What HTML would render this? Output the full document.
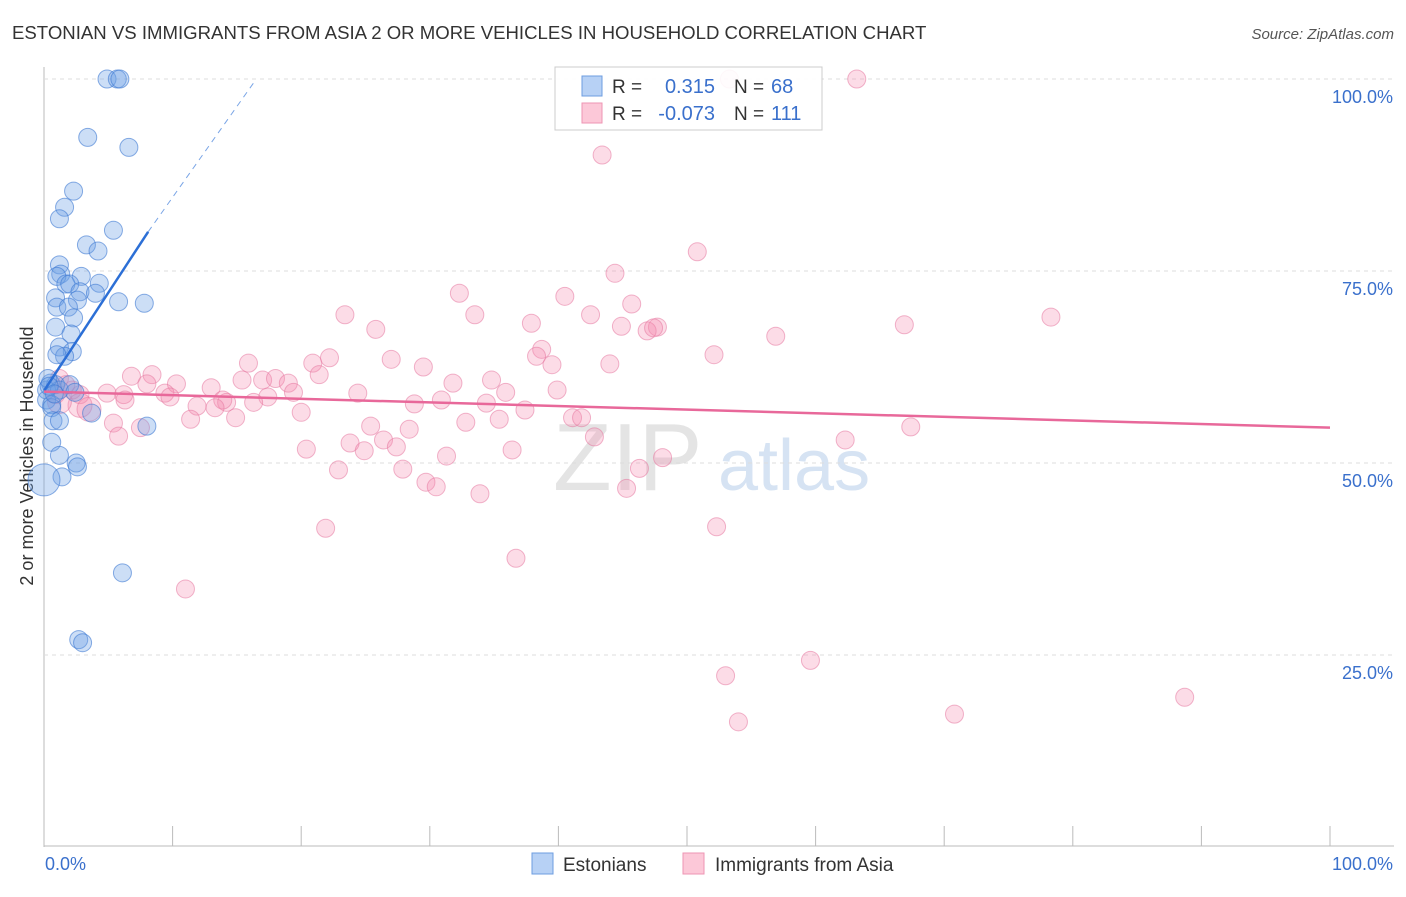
<!DOCTYPE html>
<html><head><meta charset="utf-8"><style>
body{margin:0;background:#fff;font-family:"Liberation Sans",sans-serif}
svg text{font-family:"Liberation Sans",sans-serif}
</style></head><body>
<svg id="c" width="1406" height="892">
<text x="12" y="39" font-size="18.6" fill="#333">ESTONIAN VS IMMIGRANTS FROM ASIA 2 OR MORE VEHICLES IN HOUSEHOLD CORRELATION CHART</text>
<text x="1394" y="39" font-size="15" fill="#555" font-style="italic" text-anchor="end">Source: ZipAtlas.com</text>
<text transform="translate(33,456) rotate(-90)" font-size="18" fill="#333" text-anchor="middle">2 or more Vehicles in Household</text>
<g><text x="553" y="490" font-size="96" fill="#e4e4e4" font-family="Liberation Serif">ZIP</text><text x="718" y="490" font-size="72" fill="#d6e3f3">atlas</text></g>
<g id="grid"></g><g id="pts"></g><g id="trend"></g>
<g>
<rect x="555" y="67" width="267" height="63" fill="#fff" fill-opacity="0.9" stroke="#ccc"/>
<rect x="582" y="76" width="20" height="20" fill="#b7d1f5" stroke="#6d9de0"/>
<rect x="582" y="103" width="20" height="20" fill="#fcc8d8" stroke="#ee95b3"/>
<text x="612" y="93" font-size="19" fill="#333">R =</text><text x="715" y="93" font-size="20" fill="#3a70cc" text-anchor="end">0.315</text>
<text x="734" y="93" font-size="19" fill="#333">N =</text><text x="771" y="93" font-size="20" fill="#3a70cc">68</text>
<text x="612" y="120" font-size="19" fill="#333">R =</text><text x="715" y="120" font-size="20" fill="#3a70cc" text-anchor="end">-0.073</text>
<text x="734" y="120" font-size="19" fill="#333">N =</text><text x="771" y="120" font-size="20" fill="#3a70cc">111</text>
</g>
<g>
<rect x="532" y="853" width="21" height="21" fill="#b7d1f5" stroke="#6d9de0"/><text x="563" y="871" font-size="19" fill="#333">Estonians</text>
<rect x="683" y="853" width="21" height="21" fill="#fcc8d8" stroke="#ee95b3"/><text x="715" y="871" font-size="19" fill="#333">Immigrants from Asia</text>
</g>
</svg>
<script>
const yTicks=[25,50,75,100];
const xTickCount=10;
const blueX=[4.9,5.7,5.9,3.4,6.6,2.3,1.6,1.2,5.4,3.3,4.2,1.2,1.3,1.0,2.9,1.7,2.0,4.3,2.8,2.6,4.0,0.9,1.0,5.8,7.8,1.9,2.3,0.9,2.1,1.2,2.2,1.6,1.0,0.5,0.9,0.2,1.2,2.0,2.4,0.2,0.6,3.7,8.0,0.6,0.7,1.2,0.6,1.2,2.5,2.6,1.4,0,6.1,2.7,3.0,0.3,0.4,0.8];
const blueY=[100,100,100,92.4,91.1,85.4,83.3,81.8,80.3,78.4,77.6,75.8,74.6,74.3,74.3,73.3,73.3,73.4,72.3,71.2,72.1,71.5,70.3,71.0,70.8,70.3,68.9,67.7,66.8,65.1,64.5,63.9,64.1,60.4,60.2,59.5,59.5,60.2,59.2,58.2,57.6,56.5,54.8,57.2,55.5,55.5,52.7,51.0,50,49.5,48.2,47.8,35.7,27.0,26.6,61.0,60.0,59.0];
const pinkX=[53.3,63.2,43.4,50.8,44.4,32.3,40.5,45.7,23.4,33.5,42.5,78.3,66.9,37.9,25.8,44.9,47.7,46.9,47.4,56.9,52.1,38.7,38.3,15.9,20.9,22.2,27,39.5,44,29.5,21.4,6.8,8.4,15.4,17,18,19,19.4,10.3,8,9.4,13,31.8,34.8,24.4,35.9,39.9,4.9,6.2,2.8,2.2,1.2,1.7,0.9,6.3,9.8,14.2,13.9,17.4,11.9,13.3,16.3,28.8,30.9,34.4,20,37.4,41.1,41.8,11.4,14.9,32.8,35.4,25.4,28.4,5.4,7.5,5.8,26.4,42.8,23.8,24.9,27.4,62.3,67.4,20.4,36.4,31.3,48.1,22.9,27.9,46.3,29.7,30.5,33.9,45.3,21.9,52.3,36.7,11,59.6,53,54,70.8,88.7,2.8,1.2,3.5];
const pinkY=[100,100,90.1,77.5,74.7,72.1,71.7,70.7,69.3,69.3,69.3,69,68,68.2,67.4,67.8,67.7,67.2,67.6,66.5,64.1,64.8,63.9,63,63,63.7,63.5,62.8,62.9,62.5,61.5,61.3,61.5,60.8,60.8,61,60.4,59.2,60.3,60.3,59.1,59.8,60.4,60.8,59.1,59.2,59.5,59.1,58.9,58.9,59.5,61,60.2,58.9,58.2,58.6,57.9,58.2,58.6,57.4,57.2,57.9,57.7,58.2,57.8,56.6,56.9,55.9,55.9,55.7,55.9,55.3,55.7,54.8,54.4,55.2,54.6,53.5,53,53.4,52.6,51.6,52.1,53,54.7,51.8,51.7,50.9,50.7,49.1,49.2,49.3,47.5,46.9,46,46.7,41.5,41.7,37.6,33.6,24.3,22.3,16.3,17.3,19.5,57.5,58,57];
const blueTrend=[0,59.4,8.1,80.1];const blueDash=[8.1,80.1,16.3,99.5];
const pinkTrend=[0,59.3,100,54.6];
const X0=44,X1=1330,Y0=847,Y100=79;
const sx=v=>X0+(X1-X0)*v/100, sy=v=>Y0-(Y0-Y100)*v/100;
const NS="http://www.w3.org/2000/svg";
function mk(t,a,p){const e=document.createElementNS(NS,t);for(const k in a)e.setAttribute(k,a[k]);p.appendChild(e);return e;}
const g=document.getElementById('grid');
mk('line',{x1:X0,y1:67,x2:X0,y2:847,stroke:'#bbb'},g);
mk('line',{x1:X0,y1:846,x2:1394,y2:846,stroke:'#bbb'},g);
yTicks.forEach(t=>{
 const l=mk('line',{x1:X0,y1:sy(t),x2:1394,y2:sy(t),stroke:'#ddd','stroke-dasharray':'4,4'},g);
 
 
 const tx=mk('text',{x:1393,y:sy(t)+24,'font-size':18,fill:'#3a70cc','text-anchor':'end'},g);tx.textContent=t.toFixed(1)+'%';
 
 
});
for(let i=0;i<=xTickCount;i++){const x=sx(i*100/xTickCount);
 const l=mk('line',{x1:x,y1:826,x2:x,y2:846,stroke:'#bbb'},g);
 
 }
[[0,'start','0.0%',45],[100,'end','100.0%',1393]].forEach(a=>{const t=mk('text',{x:a[3],y:870,'font-size':18,fill:'#3a70cc','text-anchor':a[1]},g);t.textContent=a[2];
 
 });
const P=document.getElementById('pts');
pinkX.forEach((v,i)=>{const c=mk('circle',{cx:sx(v),cy:sy(pinkY[i]),r:(i>=105?12:9),fill:'rgba(244,140,175,0.3)',stroke:'rgba(230,120,160,0.55)'},P);
 
 });
blueX.forEach((v,i)=>{const c=mk('circle',{cx:sx(v),cy:sy(blueY[i]),r:(i==51?16:9),fill:'rgba(110,160,230,0.35)',stroke:'rgba(60,120,210,0.6)'},P);
 
 });
const T=document.getElementById('trend');
const b=mk('line',{x1:sx(blueTrend[0]),y1:sy(blueTrend[1]),x2:sx(blueTrend[2]),y2:sy(blueTrend[3]),stroke:'#2c6fd6','stroke-width':2.5},T);


const bd=mk('line',{x1:sx(blueDash[0]),y1:sy(blueDash[1]),x2:sx(blueDash[2]),y2:sy(blueDash[3]),stroke:'#7aa5e6','stroke-width':1,'stroke-dasharray':'6,5'},T);


const p=mk('line',{x1:sx(pinkTrend[0]),y1:sy(pinkTrend[1]),x2:sx(pinkTrend[2]),y2:sy(pinkTrend[3]),stroke:'#e8689a','stroke-width':2.5},T);


</script>
</body></html>
